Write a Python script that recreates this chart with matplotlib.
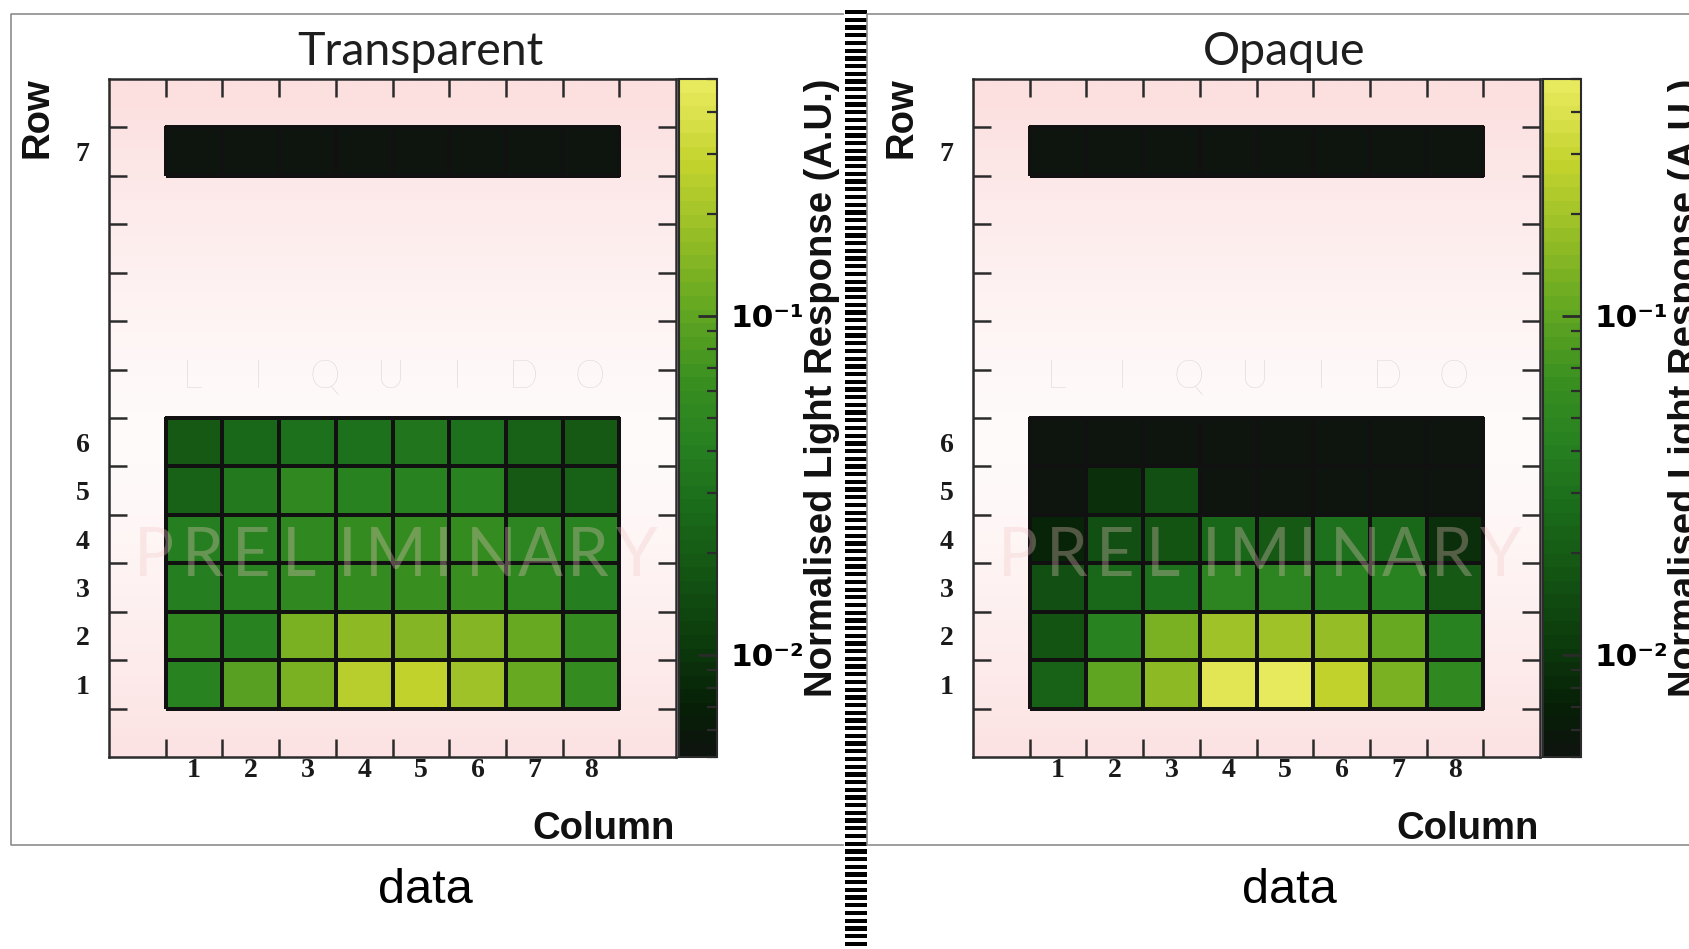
import numpy as np
import matplotlib
matplotlib.use("Agg")
import matplotlib.pyplot as plt
from matplotlib.colors import LinearSegmentedColormap, LogNorm
from matplotlib.patches import Rectangle
from matplotlib.ticker import LogLocator, NullFormatter, FuncFormatter

W, H = 1689, 949

columns = ['1', '2', '3', '4', '5', '6', '7', '8']
rows = ['1', '2', '3', '4', '5', '6', '7']
row_base = [1, 2, 3, 4, 5, 6, 12]   # y position of each row on the axis

# normalised light response, row 1 (bottom) to row 7 (top), columns 1..8
transparent = [
    [0.0456, 0.0869, 0.1256, 0.2500, 0.2800, 0.1850, 0.1096, 0.0574],
    [0.0500, 0.0456, 0.1256, 0.1510, 0.1380, 0.1380, 0.1045, 0.0574],
    [0.0380, 0.0456, 0.0500, 0.0601, 0.0630, 0.0630, 0.0500, 0.0398],
    [0.0398, 0.0456, 0.0500, 0.0574, 0.0549, 0.0574, 0.0478, 0.0416],
    [0.0219, 0.0347, 0.0524, 0.0416, 0.0416, 0.0416, 0.0190, 0.0219],
    [0.0199, 0.0262, 0.0288, 0.0288, 0.0330, 0.0288, 0.0229, 0.0182],
    [0.0050, 0.0050, 0.0050, 0.0050, 0.0050, 0.0050, 0.0050, 0.0050],
]
opaque = [
    [0.0219, 0.0953, 0.1510, 0.4200, 0.4800, 0.2700, 0.1256, 0.0524],
    [0.0173, 0.0456, 0.1315, 0.1990, 0.1900, 0.1730, 0.1045, 0.0456],
    [0.0158, 0.0251, 0.0288, 0.0478, 0.0478, 0.0456, 0.0416, 0.0182],
    [0.0079, 0.0158, 0.0174, 0.0262, 0.0182, 0.0288, 0.0251, 0.0095],
    [0.0050, 0.0087, 0.0158, 0.0050, 0.0050, 0.0050, 0.0050, 0.0050],
    [0.0052, 0.0052, 0.0052, 0.0052, 0.0052, 0.0052, 0.0052, 0.0052],
    [0.0050, 0.0050, 0.0050, 0.0050, 0.0050, 0.0050, 0.0050, 0.0050],
]
panels = [('Transparent', transparent), ('Opaque', opaque)]

vmin, vmax = 0.005, 0.5
norm = LogNorm(vmin=vmin, vmax=vmax)
cmap = LinearSegmentedColormap.from_list('response', [
    (0.00, '#0e140e'), (0.06, '#071e07'), (0.16, '#0c3a0c'),
    (0.26, '#135313'), (0.36, '#1a6a1a'), (0.46, '#268020'),
    (0.56, '#3a9020'), (0.65, '#5ea422'), (0.75, '#8ab824'),
    (0.885, '#c4d42e'), (1.00, '#e8ea5e')], N=50)

ink = '#2b2b2b'
label_font = dict(family='Liberation Sans', weight='bold', size=27.5, color='#111111')
SUPER = str.maketrans('-0123456789', '⁻⁰¹²³⁴⁵⁶⁷⁸⁹')


def box(x, y, w, h):
    # pixel rectangle (from top-left) -> figure fraction
    return [x / W, 1 - (y + h) / H, w / W, h / H]


def px(x, y):
    return x / W, 1 - y / H


def power_label(v, pos):
    return '10' + str(round(np.log10(v))).translate(SUPER)


fig = plt.figure(figsize=(W / 100, H / 100), dpi=100)

# frames around both images and the striped separator
bg = fig.add_axes([0, 0, 1, 1])
bg.set_xlim(0, W)
bg.set_ylim(H, 0)
bg.axis('off')
bg.plot([843, 11, 11, 843], [14, 14, 845, 845], color='#8c8c8c', lw=1.2)
bg.plot([1700, 867, 867, 1700], [14, 14, 845, 845], color='#8c8c8c', lw=1.2)
for y in np.arange(10, H, 7.7):
    bg.add_patch(Rectangle((845, y), 22, 4.3, color='black', lw=0))

# pink vignette behind the maps
t = np.linspace(0, 1, 256)[:, None, None]
w = np.clip(np.abs(t - 0.47) / 0.5, 0, 1) ** 1.3
white = np.array([255, 251, 251]) / 255
pink = np.array([252, 224, 224]) / 255
shade = white * (1 - w) + pink * w
shade = np.repeat(shade, 2, axis=1)

for i, (title, values) in enumerate(panels):
    dx = 864 * i
    data = np.array(values)
    ax = fig.add_axes(box(109 + dx, 79, 567, 678))
    ax.set_xlim(0, 10)
    ax.set_ylim(0, 14)
    ax.imshow(shade, extent=[0, 10, 0, 14], origin='lower', aspect='auto', zorder=0)

    xe = np.arange(1, len(columns) + 2)
    mesh = ax.pcolormesh(xe, np.arange(row_base[0], row_base[5] + 2), data[:6],
                         cmap=cmap, norm=norm, edgecolors='#111111', linewidth=1.5, zorder=2)
    ax.pcolormesh(xe, [row_base[6], row_base[6] + 1], data[6:],
                  cmap=cmap, norm=norm, edgecolors='#111111', linewidth=1.5, zorder=2)

    # watermarks
    for k, ch in enumerate('LIQUIDO'):
        ax.text(1.46 + k * (8.48 - 1.46) / 6, 7.62, ch, family='Lato', weight='light',
                size=28, color='#d8cccc', ha='center', va='baseline', zorder=3)
    for k, ch in enumerate('PRELIMINARY'):
        ax.text(0.8 + k * (9.3 - 0.8) / 10, 3.73, ch, family='Lato', size=48,
                color='#f2c6c6', alpha=0.32, ha='center', va='baseline', zorder=4)

    ax.set_xticks(np.arange(1, 10))
    ax.set_yticks(np.arange(1, 14))
    ax.xaxis.set_major_formatter(NullFormatter())
    ax.yaxis.set_major_formatter(NullFormatter())
    ax.set_xticks(np.arange(1, len(columns) + 1) + 0.5, labels=columns, minor=True)
    ax.set_yticks([b + 0.5 for b in row_base], labels=rows, minor=True)
    ax.tick_params(which='major', direction='in', length=13, width=1.8, color=ink,
                   top=True, right=True)
    ax.tick_params(which='minor', length=0, labelsize=20, labelcolor='#1a1a1a')
    ax.tick_params(axis='x', which='minor', pad=1)
    ax.tick_params(axis='y', which='minor', pad=14)
    for tl in ax.get_xticklabels(minor=True) + ax.get_yticklabels(minor=True):
        tl.set_fontfamily('Liberation Serif')
        tl.set_fontweight('bold')
    for sp in ax.spines.values():
        sp.set_linewidth(1.8)
        sp.set_color(ink)

    cax = fig.add_axes(box(679 + dx, 79, 38, 678))
    cb = fig.colorbar(mesh, cax=cax)
    cb.outline.set_linewidth(1.5)
    cb.outline.set_edgecolor(ink)
    cax.yaxis.set_major_formatter(FuncFormatter(power_label))
    cax.yaxis.set_minor_locator(LogLocator(base=10, subs=np.arange(2, 10)))
    cax.yaxis.set_minor_formatter(NullFormatter())
    cax.tick_params(which='major', direction='in', length=14, width=2, color=ink,
                    labelsize=22.5, pad=10, labelfontfamily='DejaVu Sans')
    cax.tick_params(which='minor', direction='in', length=7, width=1.6, color=ink)
    for tl in cax.get_yticklabels():
        tl.set_fontweight('bold')

    fig.text(*px(420 + dx, 65), title, family='Lato', size=33.5,
             color='#1e1e1e', ha='center', va='baseline')
    fig.text(*px(822 + dx, 79), 'Normalised Light Response (A.U.)', rotation=90,
             ha='center', va='top', **label_font)
    fig.text(*px(38 + dx, 77), 'Row', rotation=90, ha='center', va='top', **label_font)
    fig.text(*px(675 + dx, 839), 'Column', ha='right', va='baseline', **label_font)
    fig.text(*px(425 + dx, 903), 'data', family='Liberation Sans',
             size=35, color='black', ha='center', va='baseline')

fig.savefig('out.png', dpi=100)
